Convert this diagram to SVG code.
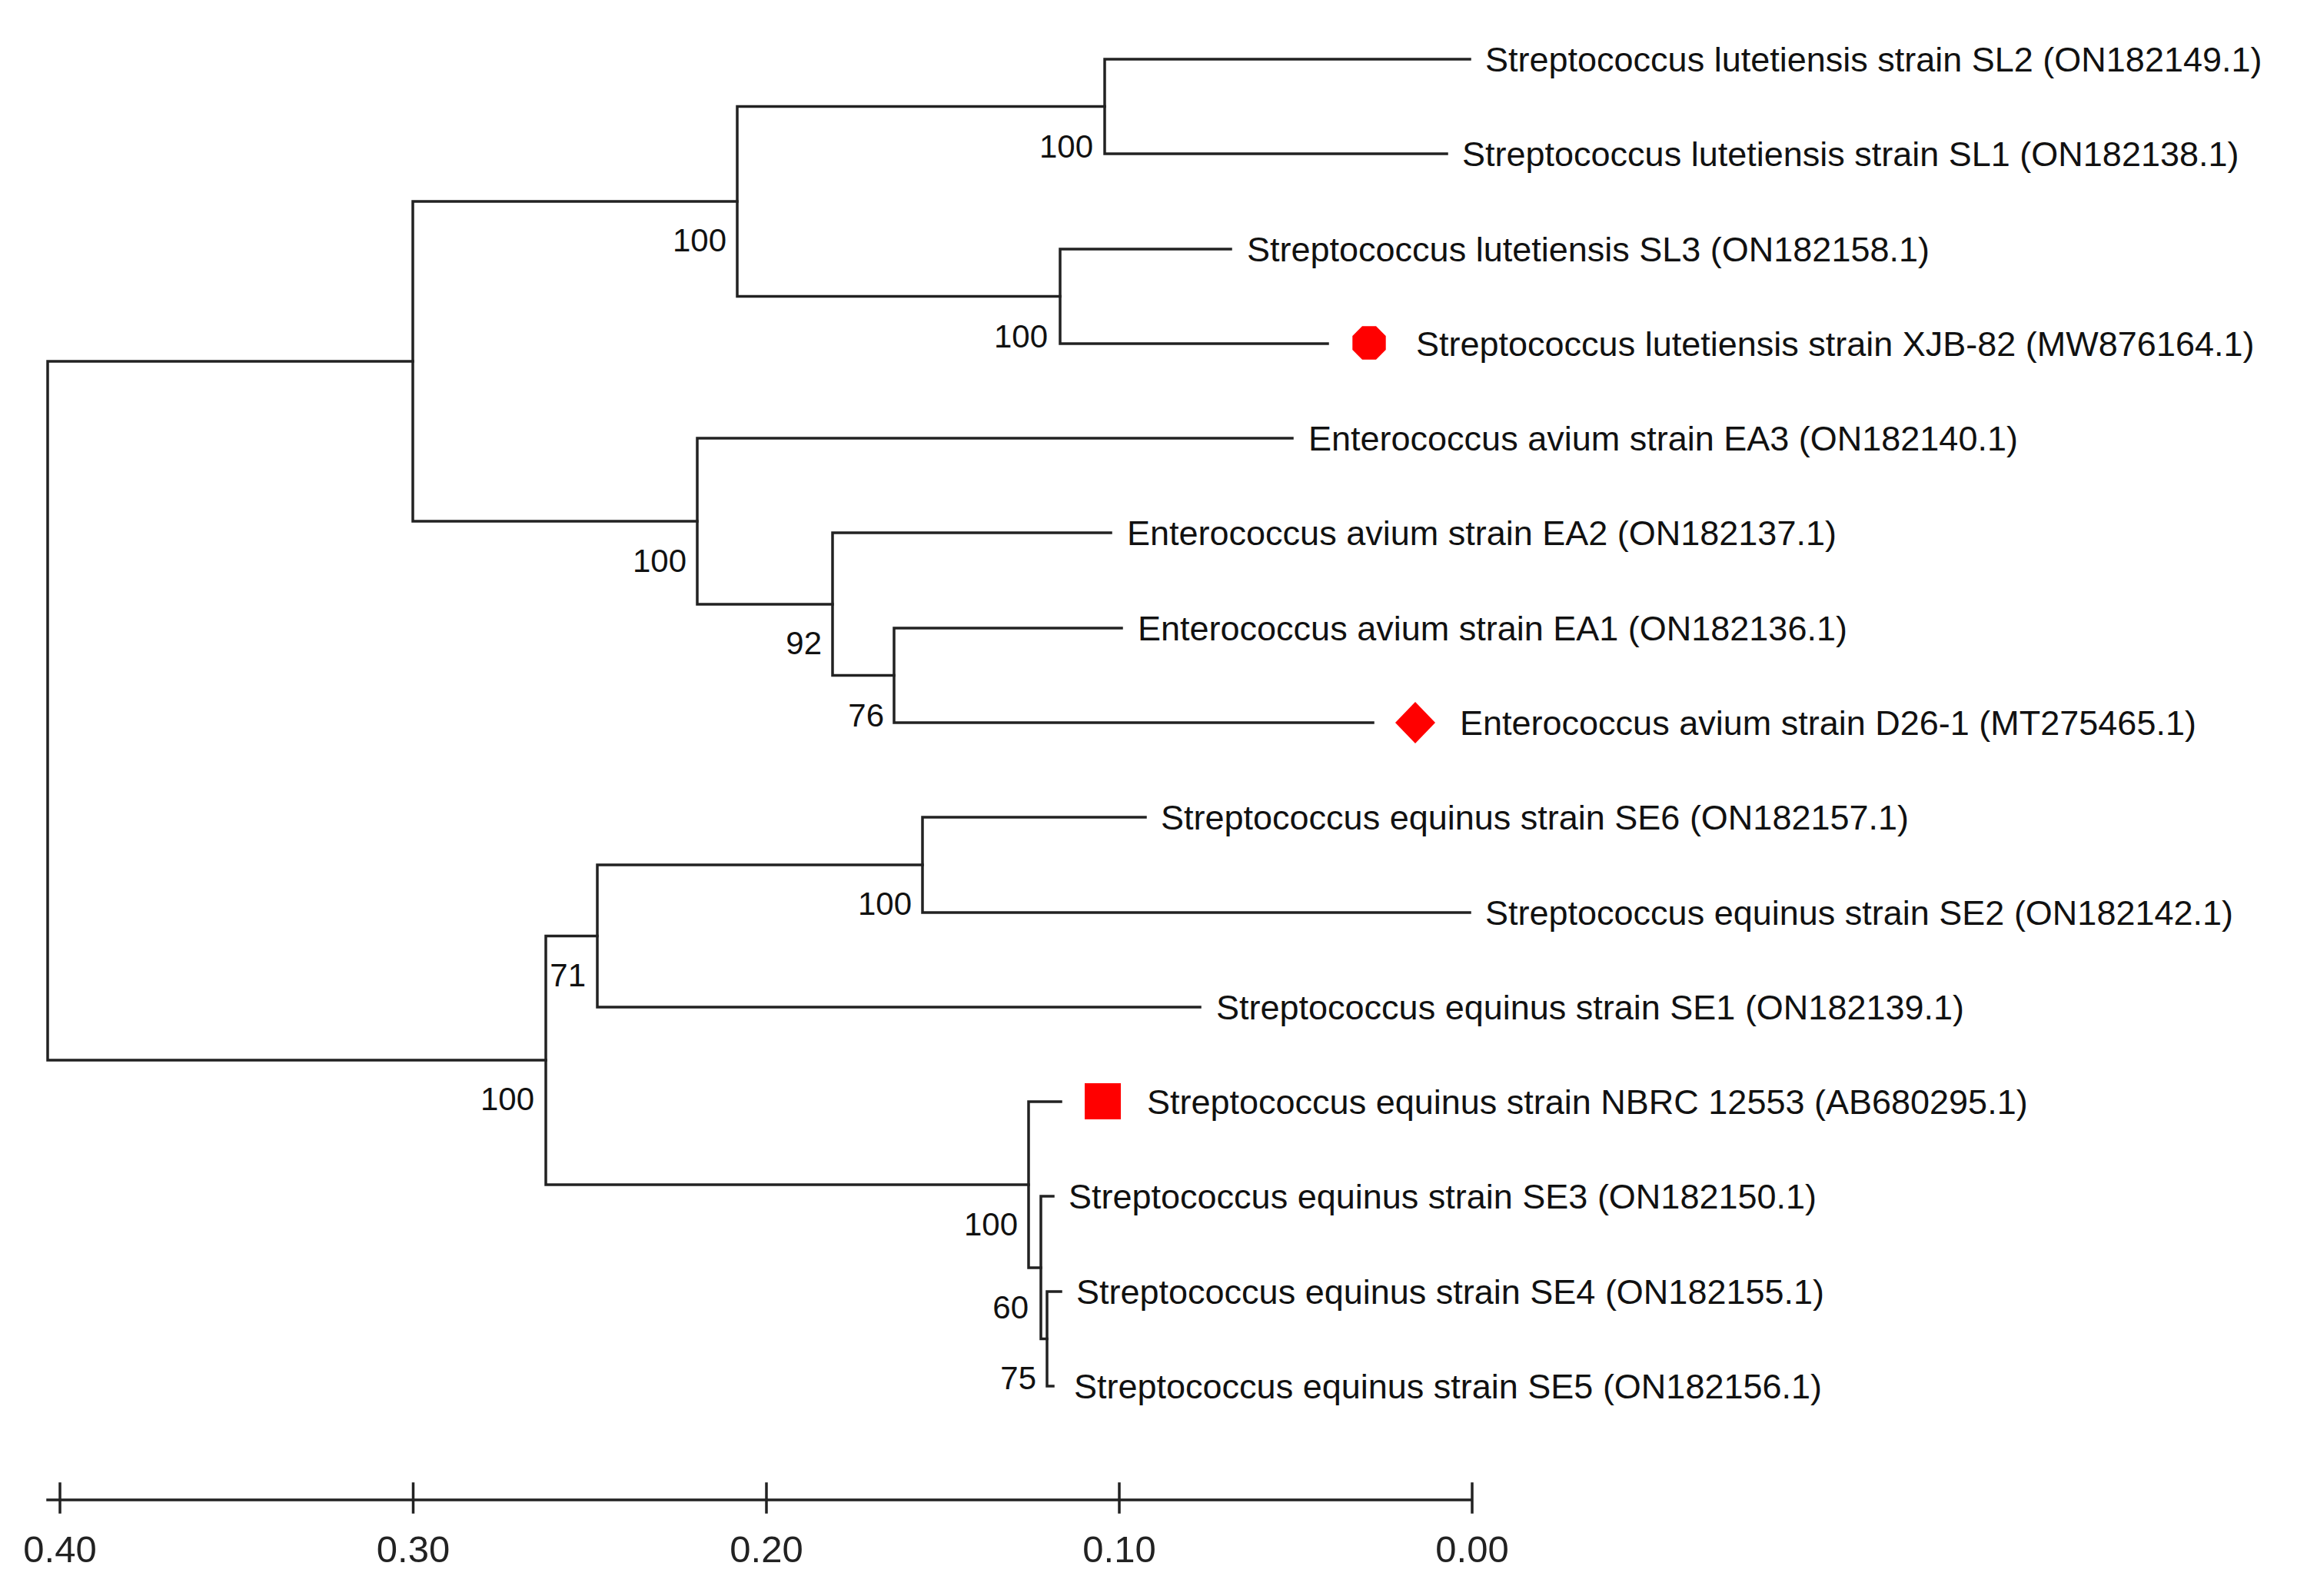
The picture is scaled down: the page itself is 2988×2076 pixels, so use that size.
<svg xmlns="http://www.w3.org/2000/svg" width="2988" height="2076" viewBox="0 0 2988 2076">
<style>
.br{stroke:#222;stroke-width:3.5;fill:none;stroke-linecap:square}
.tx{font-family:"Liberation Sans",Arial,sans-serif;font-size:45px;fill:#111}
.bs{font-family:"Liberation Sans",Arial,sans-serif;font-size:42px;fill:#111;text-anchor:end}
.ax{font-family:"Liberation Sans",Arial,sans-serif;font-size:49px;fill:#222;text-anchor:middle}
.mk{fill:#ff0000}
</style>
<rect width="2988" height="2076" fill="#ffffff"/>
<g id="connectors" class="br">
<path d="M62,470 V1379 M62,470 H537 M62,1379 H710"/>
<path d="M537,262 V678 M537,262 H959 M537,678 H907"/>
<path d="M959,138.5 V385.5 M959,138.5 H1437 M959,385.5 H1379"/>
<path d="M1437,77 V200 M1437,77 H1912 M1437,200 H1882"/>
<path d="M1379,324 V447 M1379,324 H1601 M1379,447 H1727"/>
<path d="M907,570 V786 M907,570 H1681 M907,786 H1083"/>
<path d="M1083,693 V878.5 M1083,693 H1445 M1083,878.5 H1163"/>
<path d="M1163,817 V940 M1163,817 H1459 M1163,940 H1786"/>
<path d="M710,1217.5 V1541 M710,1217.5 H777 M710,1541 H1338"/>
<path d="M777,1125 V1310 M777,1125 H1200 M777,1310 H1561"/>
<path d="M1200,1063 V1187 M1200,1063 H1490 M1200,1187 H1912"/>
<path d="M1338,1433 V1649 M1338,1433 H1380 M1338,1649 H1354"/>
<path d="M1354,1556 V1741.5 M1354,1556 H1370 M1354,1741.5 H1362"/>
<path d="M1362,1680 V1803 M1362,1680 H1380 M1362,1803 H1370"/>
</g>
<g id="leaf-SL2"><text class="tx" x="1932" y="93">Streptococcus lutetiensis strain SL2 (ON182149.1)</text></g>
<g id="leaf-SL1"><text class="tx" x="1902" y="216">Streptococcus lutetiensis strain SL1 (ON182138.1)</text></g>
<g id="leaf-SL3"><text class="tx" x="1622" y="340">Streptococcus lutetiensis SL3 (ON182158.1)</text></g>
<g id="leaf-XJB82"><polygon class="mk" points="1790,424.3 1802.7,437 1802.7,455 1790,467.7 1772,467.7 1759.3,455 1759.3,437 1772,424.3"/><text class="tx" x="1842" y="463">Streptococcus lutetiensis strain XJB-82 (MW876164.1)</text></g>
<g id="leaf-EA3"><text class="tx" x="1702" y="586">Enterococcus avium strain EA3 (ON182140.1)</text></g>
<g id="leaf-EA2"><text class="tx" x="1466" y="709">Enterococcus avium strain EA2 (ON182137.1)</text></g>
<g id="leaf-EA1"><text class="tx" x="1480" y="833">Enterococcus avium strain EA1 (ON182136.1)</text></g>
<g id="leaf-D26-1"><polygon class="mk" points="1841,913 1867,940 1841,967 1815,940"/><text class="tx" x="1899" y="956">Enterococcus avium strain D26-1 (MT275465.1)</text></g>
<g id="leaf-SE6"><text class="tx" x="1510" y="1079">Streptococcus equinus strain SE6 (ON182157.1)</text></g>
<g id="leaf-SE2"><text class="tx" x="1932" y="1203">Streptococcus equinus strain SE2 (ON182142.1)</text></g>
<g id="leaf-SE1"><text class="tx" x="1582" y="1326">Streptococcus equinus strain SE1 (ON182139.1)</text></g>
<g id="leaf-NBRC12553"><rect class="mk" x="1411" y="1409" width="47" height="47"/><text class="tx" x="1492" y="1449">Streptococcus equinus strain NBRC 12553 (AB680295.1)</text></g>
<g id="leaf-SE3"><text class="tx" x="1390" y="1572">Streptococcus equinus strain SE3 (ON182150.1)</text></g>
<g id="leaf-SE4"><text class="tx" x="1400" y="1696">Streptococcus equinus strain SE4 (ON182155.1)</text></g>
<g id="leaf-SE5"><text class="tx" x="1397" y="1819">Streptococcus equinus strain SE5 (ON182156.1)</text></g>
<g id="bootstrap">
<text class="bs" x="1422" y="205">100</text>
<text class="bs" x="945" y="327">100</text>
<text class="bs" x="1363" y="452">100</text>
<text class="bs" x="893" y="744">100</text>
<text class="bs" x="1069" y="851">92</text>
<text class="bs" x="1150" y="945">76</text>
<text class="bs" x="1186" y="1190">100</text>
<text class="bs" x="762" y="1283">71</text>
<text class="bs" x="695" y="1444">100</text>
<text class="bs" x="1324" y="1607">100</text>
<text class="bs" x="1338" y="1715">60</text>
<text class="bs" x="1348" y="1807">75</text>
</g>
<g id="scale-axis">
<path class="br" d="M62,1951 H1915 M78,1930 V1967 M537.5,1930 V1967 M997,1930 V1967 M1456,1930 V1967 M1915,1930 V1967"/>
<text class="ax" x="78" y="2032">0.40</text>
<text class="ax" x="537.5" y="2032">0.30</text>
<text class="ax" x="997" y="2032">0.20</text>
<text class="ax" x="1456" y="2032">0.10</text>
<text class="ax" x="1915" y="2032">0.00</text>
</g>
</svg>
